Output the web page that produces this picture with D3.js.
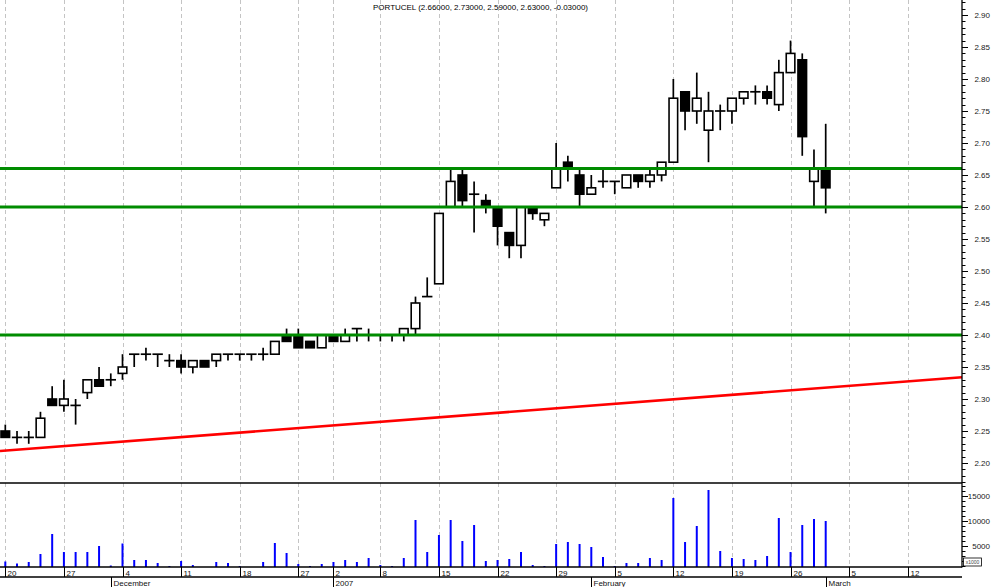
<!DOCTYPE html>
<html><head><meta charset="utf-8">
<script src="https://cdn.jsdelivr.net/npm/d3@7"></script>
<style>
html,body{margin:0;padding:0;background:#fff;}
svg{display:block;font-family:"Liberation Sans",Arial,sans-serif;}
</style></head>
<body>
<script>
// ---------- DATA ----------
const title = "PORTUCEL (2.66000, 2.73000, 2.59000, 2.63000, -0.03000)";
const dates = [
 "2006-11-20","2006-11-21","2006-11-22","2006-11-23","2006-11-24",
 "2006-11-27","2006-11-28","2006-11-29","2006-11-30","2006-12-01",
 "2006-12-04","2006-12-05","2006-12-06","2006-12-07","2006-12-08",
 "2006-12-11","2006-12-12","2006-12-13","2006-12-14","2006-12-15",
 "2006-12-18","2006-12-19","2006-12-20","2006-12-21","2006-12-22",
 "2006-12-27","2006-12-28","2006-12-29",
 "2007-01-02","2007-01-03","2007-01-04","2007-01-05",
 "2007-01-08","2007-01-09","2007-01-10","2007-01-11","2007-01-12",
 "2007-01-15","2007-01-16","2007-01-17","2007-01-18","2007-01-19",
 "2007-01-22","2007-01-23","2007-01-24","2007-01-25","2007-01-26",
 "2007-01-29","2007-01-30","2007-01-31","2007-02-01","2007-02-02",
 "2007-02-05","2007-02-06","2007-02-07","2007-02-08","2007-02-09",
 "2007-02-12","2007-02-13","2007-02-14","2007-02-15","2007-02-16",
 "2007-02-19","2007-02-20","2007-02-21","2007-02-22","2007-02-23",
 "2007-02-26","2007-02-27","2007-02-28","2007-03-01"
];
const futureDates = ["2007-03-02","2007-03-05","2007-03-06","2007-03-07","2007-03-08","2007-03-09",
 "2007-03-12","2007-03-13","2007-03-14","2007-03-15","2007-03-16"];
const open = [2.25,2.24,2.24,2.24,2.30, 2.29,2.29,2.31,2.33,2.33, 2.34,2.37,2.37,2.37,2.36,
 2.36,2.35,2.36,2.36,2.37, 2.37,2.37,2.37,2.37,2.40, 2.40,2.39,2.38, 2.40,2.39,2.41,2.40,
 2.40,2.40,2.40,2.41,2.46, 2.48,2.60,2.65,2.62,2.61, 2.60,2.56,2.54,2.60,2.58,
 2.63,2.67,2.65,2.62,2.64, 2.64,2.63,2.65,2.64,2.65, 2.67,2.78,2.75,2.72,2.75,
 2.75,2.77,2.78,2.78,2.76, 2.81,2.83,2.64,2.66];
const high = [2.26,2.25,2.25,2.28,2.32, 2.33,2.30,2.33,2.35,2.34, 2.37,2.37,2.38,2.37,2.37,
 2.37,2.36,2.36,2.37,2.37, 2.37,2.37,2.38,2.39,2.41, 2.41,2.39,2.40, 2.40,2.41,2.41,2.41,
 2.40,2.40,2.41,2.46,2.49, 2.59,2.66,2.66,2.64,2.62, 2.60,2.56,2.60,2.60,2.59,
 2.70,2.68,2.66,2.65,2.66, 2.64,2.65,2.65,2.66,2.67, 2.80,2.78,2.81,2.78,2.76,
 2.77,2.78,2.79,2.79,2.83, 2.86,2.84,2.69,2.73];
const low = [2.24,2.23,2.23,2.24,2.29, 2.28,2.26,2.30,2.32,2.32, 2.33,2.35,2.36,2.35,2.35,
 2.34,2.34,2.35,2.35,2.36, 2.36,2.36,2.36,2.37,2.39, 2.38,2.38,2.38, 2.39,2.39,2.39,2.39,
 2.39,2.39,2.39,2.40,2.46, 2.48,2.60,2.60,2.56,2.59, 2.54,2.52,2.52,2.58,2.57,
 2.63,2.64,2.60,2.62,2.63, 2.62,2.63,2.63,2.63,2.64, 2.67,2.72,2.73,2.67,2.72,
 2.73,2.76,2.76,2.76,2.75, 2.81,2.68,2.60,2.59];
const close = [2.24,2.24,2.24,2.27,2.29, 2.30,2.29,2.33,2.32,2.33, 2.35,2.37,2.37,2.37,2.36,
 2.35,2.36,2.35,2.37,2.37, 2.37,2.37,2.37,2.39,2.39, 2.38,2.38,2.40, 2.39,2.40,2.41,2.40,
 2.40,2.40,2.41,2.45,2.46, 2.59,2.64,2.61,2.62,2.60, 2.57,2.54,2.60,2.59,2.59,
 2.66,2.66,2.62,2.63,2.64, 2.64,2.65,2.64,2.65,2.67, 2.77,2.75,2.77,2.75,2.75,
 2.77,2.78,2.78,2.77,2.81, 2.84,2.71,2.66,2.63];
const volume = [1900,1500,1800,3400,7400, 3800,3800,3800,5000,1100, 5500,2200,2200,1600,1000,
 2000,1200,500,1800,1600, 1000,500,1800,5600,3600, 1400,1000,1400, 1800,2200,1800,2600,
 1200,1000,2600,10200,3800, 7200,10200,6000,9200,2000, 2200,2400,3800,1200,1000,
 5400,5800,5400,4800,2800, 1000,1600,1600,2600,2200, 14600,5800,9000,16200,4000,
 2600,2400,2200,3000,10600, 3800,9200,10400,10000];
const supportLevels = [2.66, 2.60, 2.40];
const trendPoints = [[0, 2.2194], [70, 2.3177]]; // [day index, price]
const priceTicks = [2.20,2.25,2.30,2.35,2.40,2.45,2.50,2.55,2.60,2.65,2.70,2.75,2.80,2.85,2.90];
const volumeTicks = [5000, 10000, 15000];
const weekStarts = ["2006-11-20","2006-11-27","2006-12-04","2006-12-11","2006-12-18","2006-12-27",
 "2007-01-02","2007-01-08","2007-01-15","2007-01-22","2007-01-29","2007-02-05","2007-02-12",
 "2007-02-19","2007-02-26","2007-03-05","2007-03-12"];
const monthStarts = [["2006-12-01","December"],["2007-01-02","2007"],["2007-02-01","February"],["2007-03-01","March"]];

// ---------- LAYOUT ----------
const W = 994, H = 587;
const axisX = 962, sepY = 483, volBase = 567, row2 = 577;
const allDays = dates.concat(futureDates);
const dayIndex = d => allDays.indexOf(d);

const x = d3.scaleLinear().domain([0, 82]).range([5.3, 5.3 + 82 * 11.72]);
const y = d3.scaleLinear().domain([2.20, 2.90]).range([463, 15]);
const yv = d3.scaleLinear().domain([0, 15000]).range([571, 496]);

const svg = d3.select("body").append("svg").attr("width", W).attr("height", H);
svg.append("rect").attr("width", W).attr("height", H).attr("fill", "#fff");

// gridlines
const grid = svg.append("g").attr("stroke", "#c4c4c4").attr("stroke-width", 1).attr("stroke-dasharray", "4,3");
weekStarts.forEach(d => {
  const xi = Math.round(x(dayIndex(d))) + 0.5;
  const isYear = d === "2007-01-02";
  grid.append("line").attr("x1", xi).attr("x2", xi).attr("y1", 0).attr("y2", isYear ? sepY : volBase);
});

// title
svg.append("text").attr("x", 480.5).attr("y", 10).attr("text-anchor", "middle")
  .attr("font-size", 8).attr("textLength", 215).attr("lengthAdjust", "spacingAndGlyphs")
  .text(title);

// candles
const candles = svg.append("g");
const bw = 8.6;
dates.forEach((d, i) => {
  const cx = x(i);
  const o = open[i], h = high[i], l = low[i], c = close[i];
  const g = candles.append("g").attr("stroke", "#000").attr("stroke-width", 1.7);
  g.append("line").attr("x1", cx).attr("x2", cx).attr("y1", y(h)).attr("y2", y(l));
  if (o === c) {
    g.append("line").attr("x1", cx - 5.2).attr("x2", cx + 5.2).attr("y1", y(o)).attr("y2", y(o));
  } else {
    const top = y(Math.max(o, c)), bot = y(Math.min(o, c));
    g.append("rect").attr("x", cx - bw / 2).attr("y", top).attr("width", bw).attr("height", bot - top)
      .attr("fill", c > o ? "#fff" : "#000").attr("stroke-width", 1.6);
  }
});

// support/resistance lines
supportLevels.forEach(p => {
  svg.append("line").attr("x1", 0).attr("x2", axisX).attr("y1", y(p)).attr("y2", y(p))
    .attr("stroke", "#008c00").attr("stroke-width", 3);
});

// trend line
const tSlope = (trendPoints[1][1] - trendPoints[0][1]) / (trendPoints[1][0] - trendPoints[0][0]);
const tAt = i => trendPoints[0][1] + (i - trendPoints[0][0]) * tSlope;
const i0 = x.invert(0), i1 = x.invert(axisX);
svg.append("line").attr("x1", 0).attr("x2", axisX).attr("y1", y(tAt(i0))).attr("y2", y(tAt(i1)))
  .attr("stroke", "#ff0000").attr("stroke-width", 2.6);

// volume bars
svg.append("g").selectAll("line").data(volume).join("line")
  .attr("x1", (v, i) => x(i)).attr("x2", (v, i) => x(i))
  .attr("y1", volBase).attr("y2", v => Math.min(volBase, yv(v)))
  .attr("stroke", "#0000ff").attr("stroke-width", 2);

// frame lines
const frame = svg.append("g").attr("stroke", "#000").attr("stroke-width", 1.3);
frame.append("line").attr("x1", 0).attr("x2", axisX).attr("y1", sepY).attr("y2", sepY);
frame.append("line").attr("x1", 0).attr("x2", axisX).attr("y1", volBase).attr("y2", volBase);
frame.append("line").attr("x1", 0).attr("x2", axisX).attr("y1", row2).attr("y2", row2);
frame.append("line").attr("x1", axisX).attr("x2", axisX).attr("y1", 0).attr("y2", volBase + 0.5);

// price axis
const minorP = d3.range(217, 293).map(v => v / 100);
const pAxis = svg.append("g");
minorP.forEach(p => {
  const yy = Math.round(y(p)) + 0.5;
  const major = Math.round(p * 100) % 5 === 0;
  pAxis.append("line").attr("x1", axisX).attr("x2", axisX + (major ? 6 : 3.5)).attr("y1", yy).attr("y2", yy)
    .attr("stroke", "#000").attr("stroke-width", 1);
});
pAxis.selectAll("text").data(priceTicks).join("text")
  .attr("x", 990).attr("y", p => y(p)).attr("dy", "0.35em").attr("text-anchor", "end")
  .attr("font-size", 8).attr("fill", "#222").text(d3.format(".2f"));

// volume axis
const vAxis = svg.append("g");
d3.range(1000, 18000, 1000).forEach(v => {
  const yy = Math.round(yv(v)) + 0.5;
  if (yy < sepY || yy > volBase) return;
  const major = v % 5000 === 0;
  vAxis.append("line").attr("x1", axisX).attr("x2", axisX + (major ? 6 : 3.5)).attr("y1", yy).attr("y2", yy)
    .attr("stroke", "#000").attr("stroke-width", 1);
});
vAxis.selectAll("text").data(volumeTicks).join("text")
  .attr("x", 990).attr("y", v => yv(v)).attr("dy", "0.35em").attr("text-anchor", "end")
  .attr("font-size", 8).attr("fill", "#222").text(d => d);
svg.append("rect").attr("x", 963.5).attr("y", 558).attr("width", 18).attr("height", 8)
  .attr("fill", "#fff").attr("stroke", "#000").attr("stroke-width", 0.8);
svg.append("text").attr("x", 972.5).attr("y", 564).attr("text-anchor", "middle")
  .attr("font-size", 5).attr("fill", "#444").text("x1000");

// date axis
const dAxis = svg.append("g");
weekStarts.forEach(d => {
  const xi = Math.round(x(dayIndex(d))) + 0.5;
  dAxis.append("line").attr("x1", xi).attr("x2", xi).attr("y1", volBase).attr("y2", row2)
    .attr("stroke", "#000").attr("stroke-width", 1);
  dAxis.append("text").attr("x", xi + 2).attr("y", 575.5).attr("font-size", 8).attr("fill", "#111")
    .text(+d.slice(8, 10));
});
monthStarts.forEach(([d, label]) => {
  const xi = Math.round(x(dayIndex(d))) + 0.5;
  dAxis.append("line").attr("x1", xi).attr("x2", xi).attr("y1", row2).attr("y2", H)
    .attr("stroke", "#000").attr("stroke-width", 1);
  dAxis.append("text").attr("x", xi + 2).attr("y", 586).attr("font-size", 8).attr("fill", "#111")
    .text(label);
});
</script>
</body></html>
